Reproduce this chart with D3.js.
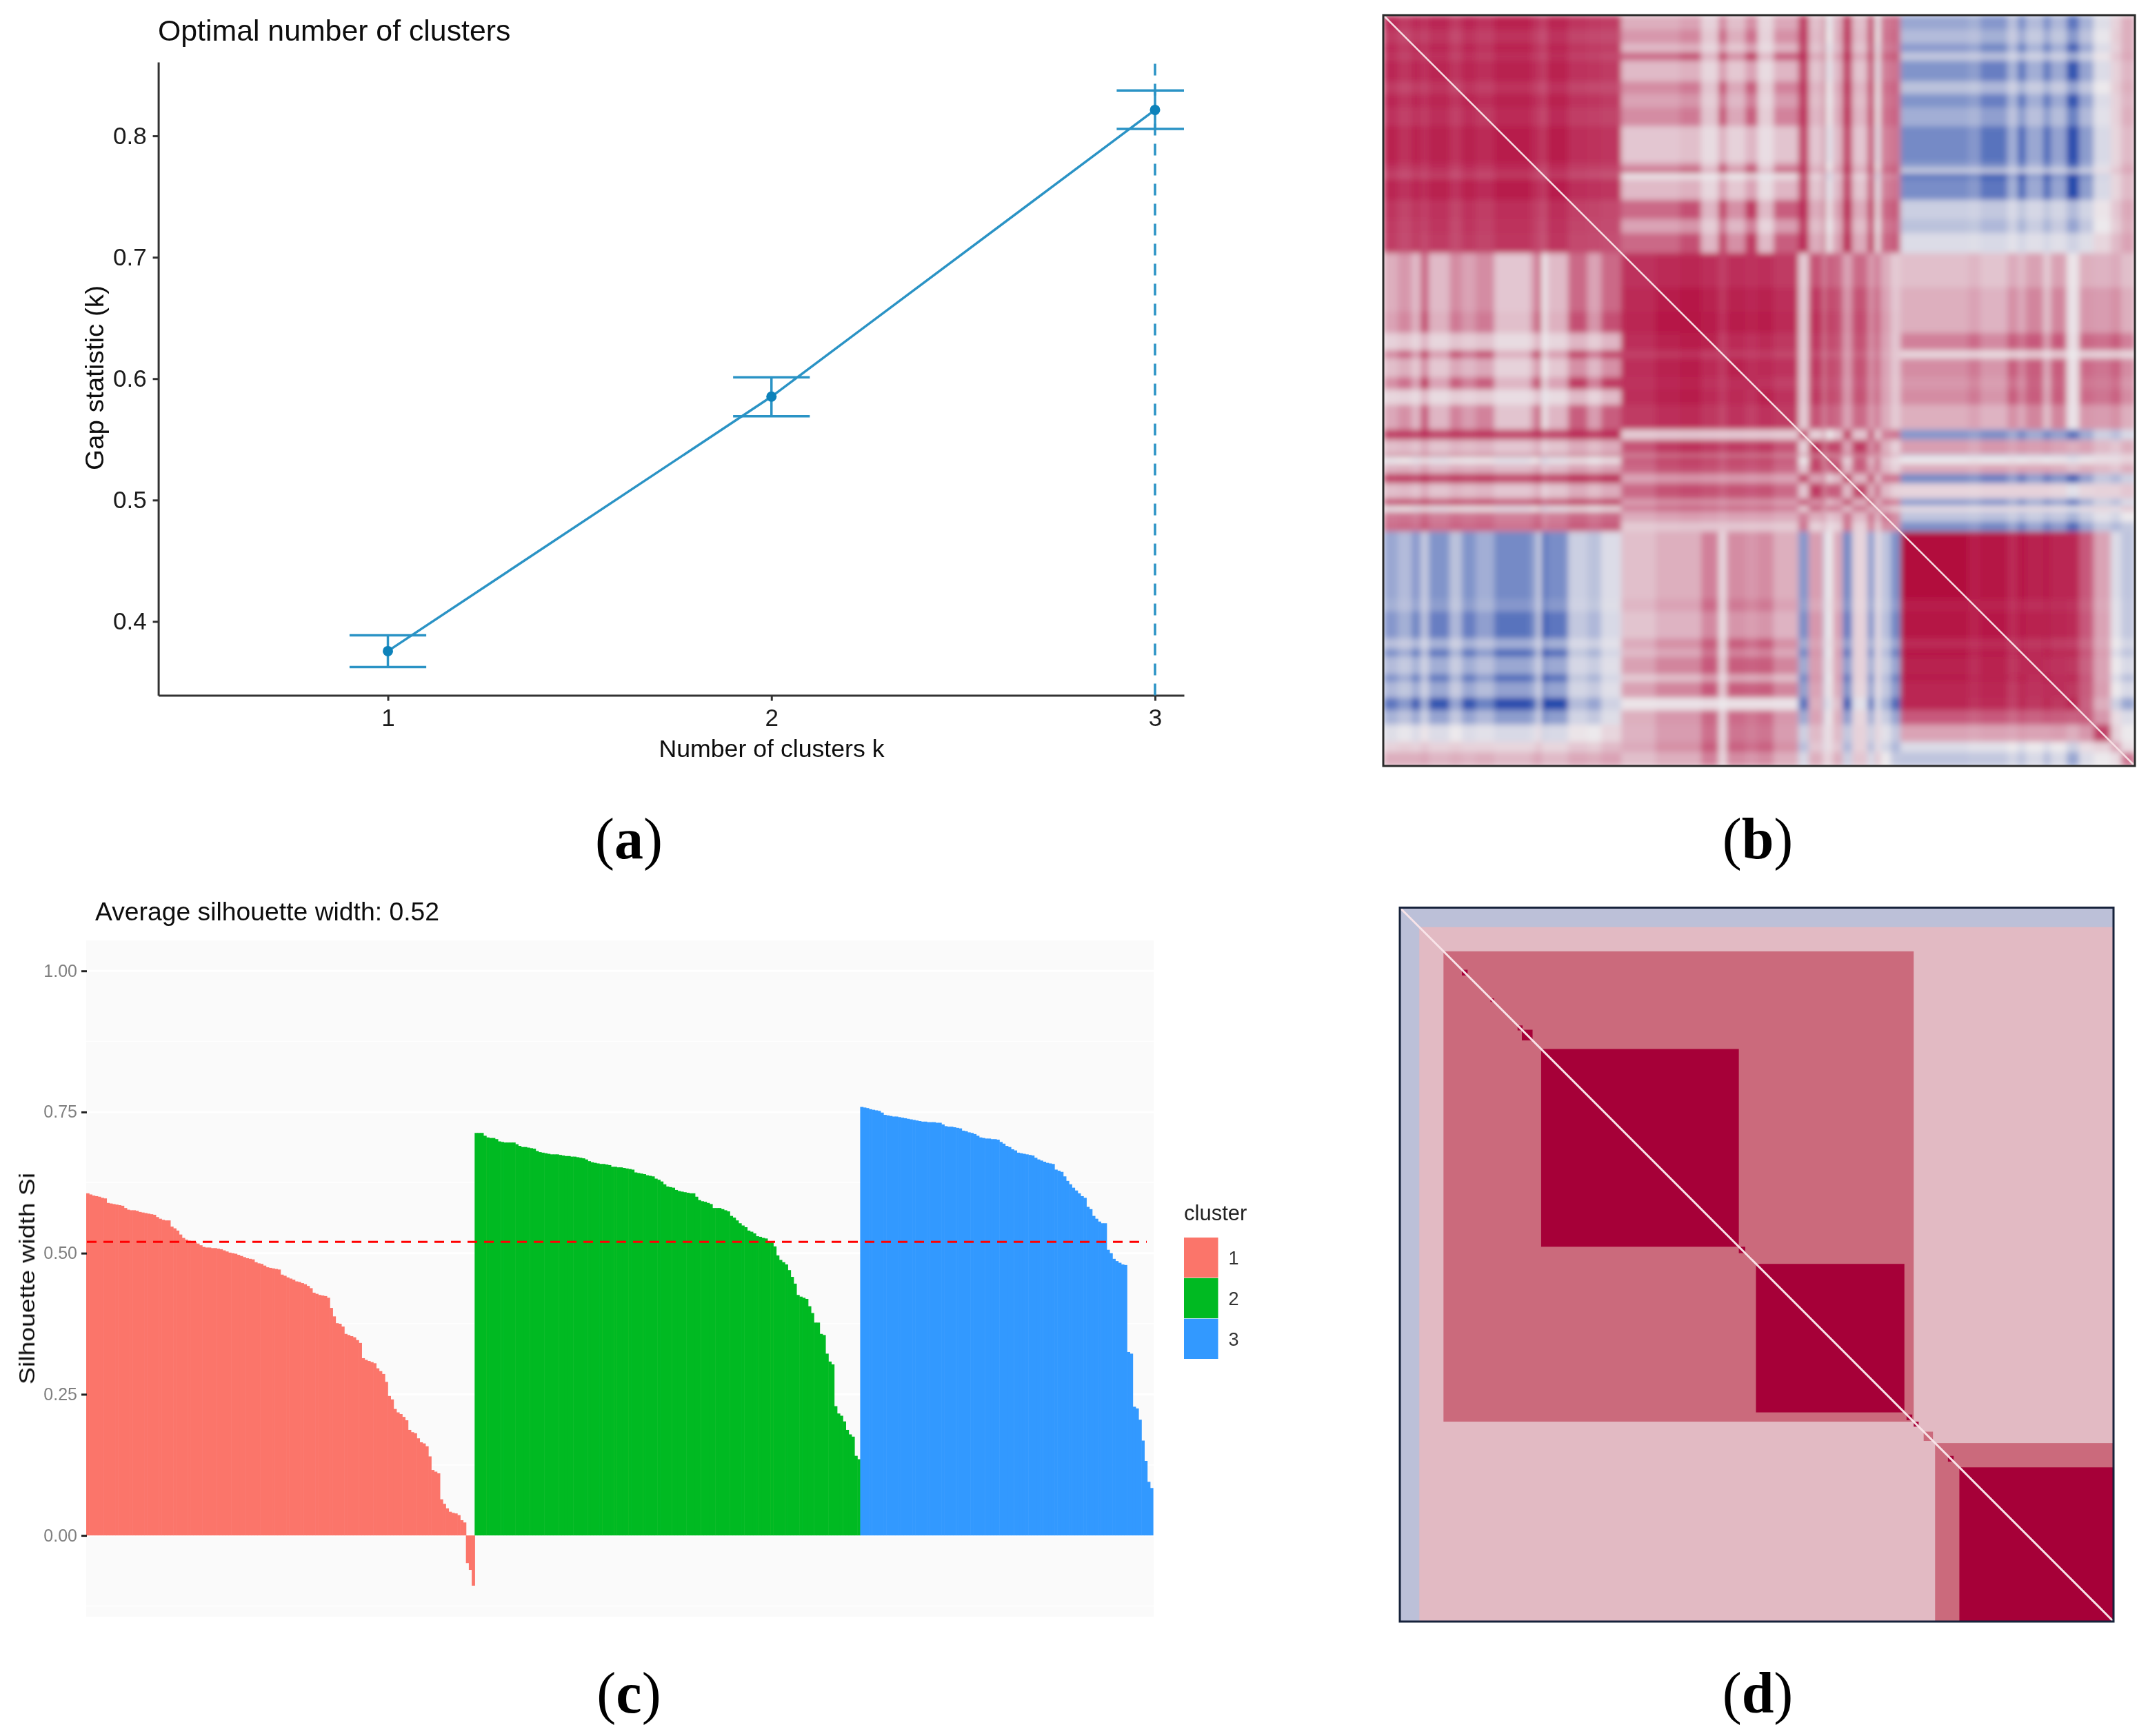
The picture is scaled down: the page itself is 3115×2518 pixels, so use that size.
<!DOCTYPE html>
<html>
<head>
<meta charset="utf-8">
<script src="https://cdn.jsdelivr.net/npm/d3@7"></script>
<style>
  body { margin: 0; background: #fff; }
  text { font-family: "Liberation Sans", Arial, sans-serif; }
  .caption { font-family: "Liberation Serif", serif; font-size: 84px; text-anchor: middle; }
</style>
</head>
<body>
<div id="figure"></div>
<script>
// (a) gap statistic
const gapK = [1, 2, 3];
const gapValue = [0.3756, 0.5852, 0.8214];
const gapLow = [0.3625, 0.569, 0.8057];
const gapHigh = [0.3886, 0.6012, 0.8374];
const gapYTicks = [0.4, 0.5, 0.6, 0.7, 0.8];

// (b) correlation map: band edges along the axis, then the upper triangle (band i against band i, i+1, ...) in hundredths
const corrEdges = [0, 21, 41, 54, 66, 96, 114, 134, 161, 214, 223, 229, 238, 268, 296, 316, 345,
  395, 430, 461, 486, 498, 525, 543, 566, 602,
  617, 638, 641, 652, 666, 680, 702, 713, 721, 736, 750,
  848, 866, 905, 920, 932, 957, 968, 991, 1009, 1030, 1055, 1070, 1090];
const corrUpper = [
  [81,75,81,77,83,75,83,78,85,80,75,72,84,77,75,74, 25,25,30,10,40,18,38,8,28, 73,18,68,-2,23,73,18,63,-2,48,53, -40,-35,-50,-25,-53,-28,-53,-30,-70,-33,-7,10,25],
  [69,75,71,77,69,77,72,79,74,69,66,78,71,69,68, 35,35,42,14,56,25,52,10,38, 75,20,70,0,25,75,20,65,0,50,55, -28,-25,-35,-18,-37,-19,-37,-21,-49,-23,-2,12,25],
  [81,77,83,75,83,78,85,80,75,72,84,77,75,74, 20,20,24,8,32,14,30,6,22, 71,16,66,-4,21,71,16,61,-4,46,51, -48,-42,-60,-30,-63,-33,-63,-36,-84,-39,-8,10,25],
  [72,78,71,78,74,80,75,71,68,80,72,71,69, 55,55,66,22,70,38,75,20,60, 81,26,76,6,31,81,26,71,6,56,61, -20,-18,-25,-13,-26,-14,-26,-15,-35,-16,2,15,28],
  [84,77,84,80,86,81,77,74,85,78,77,75, 20,20,24,8,32,14,30,6,22, 71,16,66,-4,21,71,16,61,-4,46,51, -52,-46,-65,-33,-68,-36,-68,-39,-91,-42,-8,10,22],
  [69,77,72,79,74,69,66,78,71,69,68, 40,40,48,16,64,28,60,12,44, 77,22,72,2,27,77,22,67,2,52,57, -24,-21,-30,-15,-32,-17,-32,-18,-42,-20,0,12,25],
  [84,80,86,81,77,74,85,78,77,75, 30,30,36,12,48,21,45,9,33, 74,19,69,-1,24,74,19,64,-1,49,54, -52,-46,-65,-33,-68,-36,-68,-39,-91,-42,-8,10,22],
  [75,82,77,72,69,81,74,72,71, 40,40,48,16,64,28,60,12,44, 77,22,72,2,27,77,22,67,2,52,57, -36,-32,-45,-23,-47,-25,-47,-27,-63,-29,-5,10,25],
  [88,83,79,76,88,80,79,77, 15,15,18,6,24,10,22,5,16, 70,15,65,-5,20,70,15,60,-5,45,50, -58,-50,-72,-36,-76,-40,-76,-43,-95,-47,-10,8,20],
  [78,74,70,82,75,74,72, 35,35,42,14,56,25,52,10,38, 75,20,70,0,25,75,20,65,0,50,55, -44,-39,-55,-28,-58,-30,-58,-33,-77,-36,-6,10,25],
  [69,66,78,71,69,68, 60,60,72,28,80,42,80,22,66, 83,28,78,8,33,83,28,73,8,58,63, -12,-11,-15,-8,-16,-8,-16,-9,-21,-10,5,18,30],
  [63,75,68,66,65, 2,2,4,0,12,0,10,-2,4, 65,10,60,-10,15,65,10,55,-10,40,45, -68,-60,-85,-43,-89,-47,-89,-51,-98,-55,-12,8,20],
  [87,80,78,77, 20,20,24,8,32,14,30,6,22, 71,16,66,-4,21,71,16,61,-4,46,51, -56,-49,-70,-35,-74,-39,-74,-42,-98,-46,-10,8,20],
  [72,71,69, 55,55,66,22,70,38,75,20,60, 81,26,76,6,31,81,26,71,6,56,61, -16,-14,-20,-10,-21,-11,-21,-12,-28,-13,2,15,28],
  [69,68, 30,30,36,12,48,21,45,9,33, 74,19,69,-1,24,74,19,64,-1,49,54, -24,-21,-30,-15,-32,-17,-32,-18,-42,-20,0,12,25],
  [66, 55,55,66,22,70,38,75,20,60, 81,26,76,6,31,81,26,71,6,56,61, -8,-7,-10,-5,-11,-6,-11,-6,-14,-7,8,20,30],
  [78,82,84,80,72,80,78,80,75, 13,64,34,60,55,30,55,34,47,26,13, 18,22,16,27,20,31,13,31,2,25,23,27,18],
  [88,90,86,76,86,83,86,80, 15,75,40,70,65,35,65,40,55,30,15, 25,30,23,38,28,43,18,43,3,35,33,38,25],
  [92,88,78,88,85,88,82, 16,79,42,74,68,37,68,42,58,32,16, 25,30,23,38,28,43,18,43,3,35,33,38,25],
  [85,72,82,78,82,76, 15,75,40,70,65,35,65,40,55,30,15, 45,54,41,60,50,62,32,62,5,56,52,60,45],
  [70,75,72,75,70, 14,68,36,63,59,32,59,36,50,27,14, 8,10,7,12,9,14,6,14,1,11,10,12,8],
  [85,80,82,78, 15,75,40,70,65,35,65,40,55,30,15, 40,48,36,60,44,60,28,60,4,54,50,58,40],
  [80,78,72, 14,71,38,67,62,33,62,38,52,29,14, 35,42,32,52,39,58,25,58,4,49,46,52,35],
  [85,78, 15,75,40,70,65,35,65,40,55,30,15, 40,48,36,60,44,60,28,60,4,54,50,58,40],
  [75, 13,64,34,60,55,30,55,34,47,26,13, 25,30,23,38,28,43,18,43,3,35,33,38,25],
  [65,10,55,0,15,70,15,60,10,45,50, -50,-44,-55,-38,-58,-38,-58,-44,-72,-38,-15,-25,-10],
  [80,35,70,70,30,75,40,60,25,10, 32,28,35,30,35,32,35,30,25,30,20,15,25],
  [60,25,35,55,35,50,20,40,30, -18,-16,-20,-14,-21,-14,-21,-16,-26,-14,-5,-8,5],
  [70,55,10,60,20,55,15,5, 0,2,0,3,0,3,0,2,-5,2,5,5,10],
  [70,20,60,30,50,20,10, 27,24,30,25,30,28,30,26,18,25,20,15,25],
  [75,20,65,15,50,50, -58,-52,-65,-45,-68,-45,-68,-52,-85,-45,-20,-30,-15],
  [70,25,55,20,10, 9,8,10,10,10,10,10,8,-5,8,10,10,15],
  [65,20,50,45, -45,-40,-50,-35,-52,-35,-52,-40,-65,-35,-15,-25,-10],
  [50,20,10, 5,4,5,6,5,6,5,4,-5,5,8,5,15],
  [50,40, -22,-20,-25,-17,-26,-17,-26,-20,-33,-17,-5,-12,0],
  [40, -54,-48,-60,-42,-63,-42,-63,-48,-78,-42,-20,-30,-20],
  [96,88,92,82,90,86,88,84,84,62,30,-8,-22],
  [85,85,78,84,80,82,80,78,58,28,-5,-20],
  [90,82,88,85,86,84,82,62,30,-5,-20],
  [75,78,76,78,74,72,55,28,0,-12],
  [85,82,85,82,82,62,32,-8,-22],
  [82,80,78,76,58,30,0,-10],
  [85,80,82,62,30,-8,-25],
  [80,76,60,32,0,-10],
  [84,58,25,-15,-40],
  [60,35,5,-8],
  [72,10,0],
  [30,5],
  [50]
];

// (c) silhouette width per observation, sorted inside each cluster
const silhouette1 = [.606,.604,.602,.601,.600,.598,.597,.589,.588,.587,.586,.585,.584,.580,.577,.576,.576,.575,.573,.572,.571,.570,.569,.568,.564,.561,.559,.558,.558,.547,.544,.540,.533,.527,.524,.522,.521,.520,.517,.514,.511,.510,.510,.509,.509,.508,.507,.505,.503,.501,.500,.499,.497,.495,.493,.491,.490,.489,.484,.482,.481,.478,.475,.474,.473,.472,.471,.462,.460,.457,.455,.453,.450,.449,.447,.445,.442,.438,.430,.428,.426,.425,.424,.421,.403,.388,.376,.375,.370,.357,.355,.353,.351,.346,.341,.314,.311,.309,.307,.305,.296,.291,.286,.272,.247,.241,.224,.218,.215,.210,.204,.187,.183,.181,.172,.165,.163,.158,.140,.116,.113,.110,.064,.056,.048,.042,.040,.039,.036,.027,.023,-.049,-.061,-.089];
const silhouette2 = [.713,.713,.713,.708,.705,.704,.704,.702,.698,.697,.696,.696,.696,.696,.693,.690,.688,.688,.687,.686,.685,.681,.679,.678,.677,.676,.675,.675,.675,.674,.673,.672,.672,.671,.671,.670,.669,.668,.666,.663,.661,.660,.659,.658,.658,.657,.656,.653,.653,.652,.652,.651,.650,.649,.648,.643,.642,.641,.640,.638,.637,.636,.632,.630,.627,.622,.618,.617,.616,.612,.610,.609,.608,.607,.606,.606,.600,.594,.592,.591,.589,.587,.580,.580,.580,.578,.576,.574,.566,.563,.558,.553,.549,.546,.540,.538,.535,.530,.529,.527,.526,.521,.519,.512,.496,.488,.484,.480,.470,.458,.446,.426,.423,.421,.419,.406,.394,.377,.377,.357,.355,.322,.308,.303,.229,.216,.212,.202,.187,.179,.175,.141,.135];
const silhouette3 = [.759,.758,.757,.755,.754,.753,.752,.749,.745,.744,.743,.742,.742,.741,.740,.739,.738,.737,.736,.735,.734,.733,.733,.732,.732,.732,.731,.731,.728,.725,.724,.724,.723,.722,.721,.717,.716,.714,.713,.711,.708,.705,.704,.703,.703,.702,.702,.701,.697,.694,.690,.688,.684,.682,.678,.677,.676,.675,.674,.673,.669,.666,.664,.662,.660,.659,.658,.648,.646,.644,.636,.628,.622,.616,.611,.606,.601,.598,.582,.578,.566,.561,.556,.553,.553,.506,.500,.490,.486,.483,.480,.479,.325,.322,.228,.225,.205,.168,.132,.095,.084];
const silhouetteTicks = [0, 0.25, 0.5, 0.75, 1];
const silhouetteMinor = [0.125, 0.375, 0.625, 0.875, -0.125];
const averageSilhouette = 0.52;
const clusterNames = ["1", "2", "3"];

// (d) consensus map: nested blocks along the diagonal, as fractions of the side
const blockStart = [0, 0.0273, 0.0612, 0.198, 0.499, 0.75, 0.784, 0.087, 0.127, 0.165, 0.171, 0.475, 0.71, 0.72, 0.734, 0.768];
const blockEnd = [1, 1, 0.72, 0.475, 0.707, 1, 1, 0.095, 0.132, 0.172, 0.186, 0.484, 0.718, 0.727, 0.747, 0.776];
const blockLevel = [0, 1, 2, 3, 3, 2, 3, 3, 3, 3, 3, 3, 3, 3, 2, 3];

const captions = ["a", "b", "c", "d"];

const svg = d3.select("#figure").append("svg")
    .attr("width", 3115)
    .attr("height", 2518)
    .style("display", "block");

const defs = svg.append("defs");
defs.append("filter").attr("id", "soft").attr("x", "-2%").attr("y", "-2%").attr("width", "104%").attr("height", "104%")
    .append("feGaussianBlur").attr("stdDeviation", 4.5);
// the reference is a resampled bitmap, so everything is a touch soft
defs.append("filter").attr("id", "scan").attr("x", "-1%").attr("y", "-1%").attr("width", "102%").attr("height", "102%")
    .append("feGaussianBlur").attr("stdDeviation", 0.6);
defs.append("clipPath").attr("id", "corrClip").append("rect")
    .attr("x", 2006).attr("y", 22).attr("width", 1090).attr("height", 1089);

// panel (a)
const gapX = d3.scaleLinear().domain([0.4015, 3.0755]).range([229.6, 1717]);
const gapY = d3.scaleLinear().domain([0.3392, 0.8608]).range([1008.5, 90]);
const gapLine = "#2c93c5";
const panelA = svg.append("g").attr("filter", "url(#scan)");

const axisLeftA = panelA.append("g")
    .attr("transform", "translate(229.6,0)")
    .call(d3.axisLeft(gapY).tickValues(gapYTicks).tickFormat(d3.format(".1f")).tickSize(8).tickPadding(9).tickSizeOuter(0));
const axisBottomA = panelA.append("g")
    .attr("transform", "translate(0,1008.5)")
    .call(d3.axisBottom(gapX).tickValues(gapK).tickFormat(d3.format("d")).tickSize(8).tickSizeOuter(0));
[axisLeftA, axisBottomA].forEach(a => {
    a.selectAll("path, line").attr("stroke", "#333").attr("stroke-width", 3);
    a.selectAll("text").attr("font-size", 35).attr("fill", "#1a1a1a")
        .style("font-family", '"Liberation Sans"');
});
axisBottomA.selectAll("text").attr("y", 44).attr("dy", 0);

// dashed line at the chosen k
panelA.append("line")
    .attr("x1", gapX(3)).attr("x2", gapX(3))
    .attr("y1", gapY.range()[0]).attr("y2", gapY.range()[1])
    .attr("stroke", gapLine).attr("stroke-width", 3.5).attr("stroke-dasharray", "17,12");

panelA.append("path")
    .datum(gapK.map((k, i) => [k, gapValue[i]]))
    .attr("fill", "none")
    .attr("stroke", gapLine)
    .attr("stroke-width", 3.5)
    .attr("d", d3.line().x(d => gapX(d[0])).y(d => gapY(d[1])));

const gapBars = panelA.selectAll(".gap").data(gapK).enter().append("g").attr("class", "gap");
gapBars.append("line")
    .attr("x1", d => gapX(d)).attr("x2", d => gapX(d))
    .attr("y1", (d, i) => gapY(gapLow[i])).attr("y2", (d, i) => gapY(gapHigh[i]));
[gapLow, gapHigh].forEach(ends => {
    gapBars.append("line")
        .attr("x1", d => gapX(d - 0.1))
        .attr("x2", d => Math.min(gapX(d + 0.1), gapX.range()[1]))
        .attr("y1", (d, i) => gapY(ends[i])).attr("y2", (d, i) => gapY(ends[i]));
});
gapBars.selectAll("line").attr("stroke", gapLine).attr("stroke-width", 3.5);
gapBars.append("circle")
    .attr("cx", d => gapX(d)).attr("cy", (d, i) => gapY(gapValue[i]))
    .attr("r", 7.5).attr("fill", "#0a82ba");

panelA.append("text").attr("x", 229).attr("y", 59).attr("font-size", 42.8).attr("fill", "#111")
    .text("Optimal number of clusters");
panelA.append("text").attr("x", 1119).attr("y", 1098).attr("text-anchor", "middle").attr("font-size", 35.7).attr("fill", "#111")
    .text("Number of clusters k");
panelA.append("text")
    .attr("transform", "translate(150,548) rotate(-90)")
    .attr("text-anchor", "middle").attr("font-size", 36).attr("fill", "#111")
    .attr("textLength", 268).attr("lengthAdjust", "spacingAndGlyphs")
    .text("Gap statistic (k)");

// panel (b)
const corrX = d3.scaleLinear().domain([0, 1090]).range([2006, 3096]);
const corrY = d3.scaleLinear().domain([0, 1090]).range([22, 1111]);
const corrColor = d3.scaleLinear().domain([-100, 0, 100]).range(["#1f45ab", "#ece9ec", "#b00035"]);
const corrCells = [];
corrUpper.forEach((row, i) => {
    row.forEach((value, off) => {
        corrCells.push({ i: i, j: i + off, value: value });
        if (off > 0) corrCells.push({ i: i + off, j: i, value: value });
    });
});

const panelB = svg.append("g");
panelB.append("g").attr("clip-path", "url(#corrClip)")
    .append("g").attr("filter", "url(#soft)")
    .selectAll("rect").data(corrCells).enter().append("rect")
    .attr("x", d => corrX(corrEdges[d.j]))
    .attr("y", d => corrY(corrEdges[d.i]))
    .attr("width", d => corrX(corrEdges[d.j + 1]) - corrX(corrEdges[d.j]) + 0.5)
    .attr("height", d => corrY(corrEdges[d.i + 1]) - corrY(corrEdges[d.i]) + 0.5)
    .attr("fill", d => corrColor(d.value))
    .attr("shape-rendering", "crispEdges");
panelB.append("line")
    .attr("x1", corrX(0)).attr("y1", corrY(0)).attr("x2", corrX(1090)).attr("y2", corrY(1090))
    .attr("stroke", "#f6dfe4").attr("stroke-width", 2.5);
panelB.append("rect")
    .attr("x", 2006).attr("y", 22).attr("width", 1090).attr("height", 1089)
    .attr("fill", "none").attr("stroke", "#2a2a2a").attr("stroke-width", 3);

// panel (c)
const silhouettes = [silhouette1, silhouette2, silhouette3];
const silBars = silhouettes.flatMap((vals, c) => vals.map(v => ({ cluster: clusterNames[c], value: v })));
const silX = d3.scaleBand().domain(d3.range(silBars.length)).range([125, 1672]).padding(0);
const silY = d3.scaleLinear().domain([-0.144, 1.054]).range([2345, 1364]);
const clusterColor = d3.scaleOrdinal().domain(clusterNames).range(["#fb756b", "#00ba22", "#3399ff"]);

const panelC = svg.append("g").attr("filter", "url(#scan)");
panelC.append("rect").attr("x", 125).attr("y", 1364).attr("width", 1548).attr("height", 981).attr("fill", "#fafafa");
panelC.selectAll(".minor").data(silhouetteMinor).enter().append("line")
    .attr("x1", 125).attr("x2", 1673)
    .attr("y1", d => silY(d)).attr("y2", d => silY(d))
    .attr("stroke", "#fff").attr("stroke-width", 1.5);
panelC.selectAll(".major").data(silhouetteTicks).enter().append("line")
    .attr("x1", 125).attr("x2", 1673)
    .attr("y1", d => silY(d)).attr("y2", d => silY(d))
    .attr("stroke", "#fff").attr("stroke-width", 3);
panelC.selectAll(".bar").data(silBars).enter().append("rect")
    .attr("x", (d, i) => silX(i))
    .attr("y", d => silY(Math.max(d.value, 0)))
    .attr("width", silX.bandwidth() + 0.6)
    .attr("height", d => Math.abs(silY(d.value) - silY(0)))
    .attr("fill", d => clusterColor(d.cluster));
panelC.append("line")
    .attr("x1", 126).attr("x2", 1663)
    .attr("y1", silY(averageSilhouette)).attr("y2", silY(averageSilhouette))
    .attr("stroke", "#ff0000").attr("stroke-width", 3).attr("stroke-dasharray", "14,10");

const axisC = panelC.append("g")
    .attr("transform", "translate(126,0)")
    .call(d3.axisLeft(silY).tickValues(silhouetteTicks).tickFormat(d3.format(".2f")).tickSize(8).tickPadding(6));
axisC.select(".domain").remove();
axisC.selectAll("line").attr("stroke", "#222").attr("stroke-width", 3);
axisC.selectAll("text").attr("font-size", 25).attr("fill", "#7f7f7f").style("font-family", '"Liberation Sans"');

panelC.append("text").attr("x", 138).attr("y", 1335).attr("font-size", 37.3).attr("fill", "#111")
    .text("Average silhouette width: " + averageSilhouette);
panelC.append("text")
    .attr("transform", "translate(50,1854.5) rotate(-90)")
    .attr("text-anchor", "middle").attr("font-size", 32).attr("fill", "#111")
    .attr("textLength", 307).attr("lengthAdjust", "spacingAndGlyphs")
    .text("Silhouette width Si");

// legend
const legendY = d3.scaleBand().domain(clusterNames).range([1795, 1971]).paddingInner(0.01);
panelC.append("text").attr("x", 1717).attr("y", 1770).attr("font-size", 31).attr("fill", "#222").text("cluster");
panelC.selectAll(".swatch").data(clusterNames).enter().append("rect")
    .attr("x", 1717).attr("y", d => legendY(d))
    .attr("width", 49.5).attr("height", legendY.bandwidth())
    .attr("fill", d => clusterColor(d));
panelC.selectAll(".swatchLabel").data(clusterNames).enter().append("text")
    .attr("x", 1789).attr("y", d => legendY(d) + legendY.bandwidth() / 2 + 10)
    .attr("text-anchor", "middle").attr("font-size", 27).attr("fill", "#333")
    .text(d => d);

// panel (d)
const consX = d3.scaleLinear().domain([0, 1]).range([2030, 3065]);
const consY = d3.scaleLinear().domain([0, 1]).range([1316.5, 2352]);
const consColor = d3.scaleOrdinal().domain([0, 1, 2, 3]).range(["#bcc0d8", "#e2bac3", "#cb6a7b", "#a60037"]);
const panelD = svg.append("g").attr("filter", "url(#scan)");
panelD.selectAll("rect").data(blockStart).enter().append("rect")
    .attr("x", d => consX(d))
    .attr("y", d => consY(d))
    .attr("width", (d, i) => consX(blockEnd[i]) - consX(d))
    .attr("height", (d, i) => consY(blockEnd[i]) - consY(d))
    .attr("fill", (d, i) => consColor(blockLevel[i]));
panelD.append("line")
    .attr("x1", consX(0)).attr("y1", consY(0)).attr("x2", consX(1)).attr("y2", consY(1))
    .attr("stroke", "#f8e4e8").attr("stroke-width", 3);
panelD.append("rect")
    .attr("x", 2030).attr("y", 1316.5).attr("width", 1035).attr("height", 1035.5)
    .attr("fill", "none").attr("stroke", "#14203a").attr("stroke-width", 3);

// captions
const captionX = [912, 2549, 912, 2549];
const captionY = [1245, 1245, 2484, 2484];
captions.forEach((c, i) => {
    const t = svg.append("text").attr("class", "caption").attr("x", captionX[i]).attr("y", captionY[i]);
    t.append("tspan").text("(");
    t.append("tspan").attr("font-weight", "bold").text(c);
    t.append("tspan").text(")");
});
</script>
</body>
</html>
